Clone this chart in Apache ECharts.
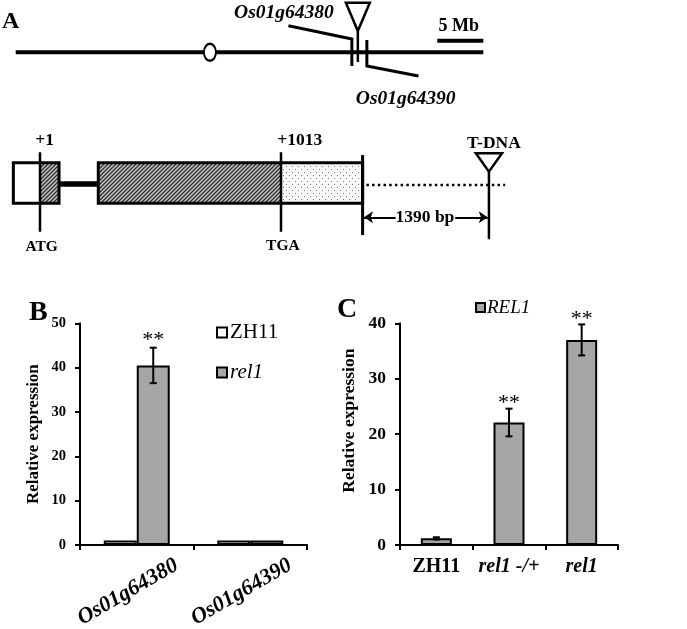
<!DOCTYPE html>
<html><head><meta charset="utf-8">
<script src="https://cdn.jsdelivr.net/npm/echarts@6/dist/echarts.min.js"></script>
<style>html,body{margin:0;padding:0;background:#fff}#c{width:687px;height:629px}</style>
</head><body><div id="c"></div>
<script>
// ---------- Panel A: chromosome map (Mb) ----------
const chromSpanMb = [0, 50.8];
const centromereMb = 21.1;
const geneTicksMb = [36.52, 38.15];          // Os01g64380, Os01g64390
const tdnaChromMb = 37.17;
const scaleBarMb = [45.8, 50.8];             // 5 Mb scale bar
const chromLabels = ['Os01g64380', 'Os01g64390', '5 Mb'];
const chromLabelMb = [29.14, 42.37, 48.13];

// ---------- Panel A: gene model (schematic bp, ATG = +1) ----------
const utr5Bp = [-112, 0];
const cds1Bp = [0, 80];
const intronBp = [80, 245];
const cds2Bp = [245, 1013];
const utr3Bp = [1013, 1356];
const tdnaGeneBp = 1887;
const dottedEndBp = 1955;
const geneLabels = ['+1', '+1013', 'T-DNA', 'ATG', 'TGA', '1390 bp'];
const geneLabelBp = [19, 1092, 1908, 7, 1021, 1618];

// ---------- Panel B ----------
const catsB = ['Os01g64380', 'Os01g64390'];
const zh11B = [1.0, 1.0];
const rel1B = [40.5, 1.0];
const rel1BErr = [4.0, 0];
const rel1BSig = [1, 0];
const ticksB = [0, 10, 20, 30, 40, 50];

// ---------- Panel C ----------
const catsC = ['ZH11', 'rel1 -/+', 'rel1'];
const rel1C = [1.2, 22.1, 37.0];
const rel1CErr = [0.2, 2.5, 2.8];
const rel1CSig = [0, 1, 1];
const ticksC = [0, 10, 20, 30, 40];

// ---------- layout (diagram levels / styling, not data) ----------
const FONT = '"Liberation Serif","Times New Roman",serif';
const LA = { chromY: 52.3, tickTop: 38, tickBot: 66, leader1StartMb: 29.63, leader1StartY: 25.7,
  leader2EndMb: 43.76, leader2EndY: 76, tdnaTop: 2.7, tdnaApex: 31, tdnaStemBot: 62, tdnaHalfMb: 1.3,
  scaleY: 40.7, labelY: [13.3, 99.3, 26] };
const LG = { boxTop: 162.7, boxBot: 203.3, intronY: 184, markTop: 152.3, markBot: 231.7, endTop: 155, endBot: 235,
  dotY: 185, dotStartBp: 1372, tTop: 153.3, tApex: 171.7, tStemBot: 239.3, tHalfBp: 55, arrowY: 217.3,
  arrowL: [1495, 1362], arrowR: [1745, 1882], labelY: [140, 140, 143, 247, 246, 217.3] };
const GRAY = '#a6a6a6';

function hatchPattern() {
  const c = document.createElement('canvas'); c.width = c.height = 4;
  const g = c.getContext('2d');
  g.fillStyle = '#cbcbcb'; g.fillRect(0, 0, 4, 4);
  g.strokeStyle = '#333'; g.lineWidth = 1.5; g.beginPath();
  g.moveTo(0, 4); g.lineTo(4, 0); g.moveTo(-1, 1); g.lineTo(1, -1); g.moveTo(3, 5); g.lineTo(5, 3);
  g.stroke(); return c;
}
function dotPattern() {
  const c = document.createElement('canvas'); c.width = 6; c.height = 6;
  const g = c.getContext('2d');
  g.fillStyle = '#f8f8f8'; g.fillRect(0, 0, 6, 6);
  g.fillStyle = '#7a7a7a'; g.fillRect(1, 1, 1, 1); g.fillRect(4, 4, 1, 1);
  return c;
}
const FILLS = ['#ffffff', { image: hatchPattern(), repeat: 'repeat' }, { image: dotPattern(), repeat: 'repeat' }];

const geneBoxes = [[utr5Bp[0], utr5Bp[1], 0], [cds1Bp[0], cds1Bp[1], 1], [cds2Bp[0], cds2Bp[1], 1], [utr3Bp[0], utr3Bp[1], 2]];
const exonOutlines = [[utr5Bp[0], cds1Bp[1], 0], [cds2Bp[0], utr3Bp[1], 0]];

const lineBase = { type: 'lines', coordinateSystem: 'cartesian2d', polyline: true, silent: true, symbol: 'none',
  lineStyle: { color: '#000', width: 3, opacity: 1, curveness: 0 }, z: 4 };

function errorSeries(xi, yi, vals, errs, sigs, offset, fontSize, lift) {
  return {
    type: 'custom', xAxisIndex: xi, yAxisIndex: yi, z: 5, silent: true,
    data: vals.map((v, i) => [i, v, errs[i], sigs[i]]),
    renderItem: function (params, api) {
      const i = api.value(0), v = api.value(1), e = api.value(2), s = api.value(3);
      const x = api.coord([i, v])[0] + offset;
      const yt = api.coord([i, v + e])[1], yb = api.coord([i, v - e])[1];
      const ch = [];
      const ls = { stroke: '#000', lineWidth: 2 };
      if (e > 0) {
        ch.push({ type: 'line', shape: { x1: x, y1: yt, x2: x, y2: yb }, style: ls });
        ch.push({ type: 'line', shape: { x1: x - 3.5, y1: yt, x2: x + 3.5, y2: yt }, style: ls });
        ch.push({ type: 'line', shape: { x1: x - 3.5, y1: yb, x2: x + 3.5, y2: yb }, style: ls });
      }
      if (s) ch.push({ type: 'text', x: x, y: yt + lift, style: { text: '**', font: fontSize + 'px ' + FONT, fill: '#000', align: 'center', verticalAlign: 'bottom' } });
      return { type: 'group', children: ch };
    }
  };
}

const axisBlack = { color: '#000', width: 2 };

const option = {
  animation: false,
  backgroundColor: '#fff',
  title: [
    { text: 'A', left: 2, top: 10, padding: 0, textStyle: { fontFamily: FONT, fontSize: 24, fontWeight: 'bold', color: '#000' } },
    { text: 'B', left: 29, top: 299, padding: 0, textStyle: { fontFamily: FONT, fontSize: 28, fontWeight: 'bold', color: '#000' } },
    { text: 'C', left: 337, top: 296, padding: 0, textStyle: { fontFamily: FONT, fontSize: 28, fontWeight: 'bold', color: '#000' } }
  ],
  legend: [
    { orient: 'vertical', left: 216, top: 322, itemWidth: 10, itemHeight: 10, itemGap: 19, padding: 0,
      textStyle: { fontFamily: FONT, fontSize: 21, color: '#000', padding: [0, 0, 0, -2] },
      data: [
        { name: 'ZH11', icon: 'rect', itemStyle: { color: '#fff', borderColor: '#000', borderWidth: 2 } },
        { name: 'rel1', icon: 'rect', itemStyle: { color: GRAY, borderColor: '#000', borderWidth: 2 }, textStyle: { fontStyle: 'italic' } }
      ] },
    { orient: 'horizontal', left: 475, top: 298, itemWidth: 9, itemHeight: 9, padding: 0,
      textStyle: { fontFamily: FONT, fontSize: 19, color: '#000', fontStyle: 'italic', padding: [0, 0, 0, -3] },
      data: [{ name: 'REL1', icon: 'rect', itemStyle: { color: GRAY, borderColor: '#000', borderWidth: 2 } }] }
  ],
  grid: [
    { left: 15.7, top: 0, width: 467.6, height: 120, outerBoundsMode: 'none' },
    { left: 4.315, top: 130, width: 511.5, height: 140, outerBoundsMode: 'none' },
    { left: 80, top: 323.3, width: 227, height: 221.7, outerBoundsMode: 'none' },
    { left: 400, top: 323.3, width: 218, height: 221.7, outerBoundsMode: 'none' }
  ],
  xAxis: [
    { gridIndex: 0, type: 'value', min: chromSpanMb[0], max: chromSpanMb[1], show: false },
    { gridIndex: 1, type: 'value', min: -150, max: 2000, show: false },
    { gridIndex: 2, type: 'category', data: catsB,
      axisLine: { lineStyle: axisBlack }, axisTick: { show: true, length: 5, lineStyle: axisBlack },
      axisLabel: { rotate: 30, align: 'center', verticalAlign: 'middle', margin: 42, padding: [0, 20, 12, 0],
        fontFamily: FONT, fontSize: 22, fontWeight: 'bold', fontStyle: 'italic', color: '#000', interval: 0 } },
    { gridIndex: 3, type: 'category', data: catsC,
      axisLine: { lineStyle: axisBlack }, axisTick: { show: true, length: 5, lineStyle: axisBlack },
      axisLabel: { margin: 12, interval: 0, color: '#000',
        formatter: v => v === 'ZH11' ? '{n|' + v + '}' : '{i|' + v + '}',
        rich: { n: { fontFamily: FONT, fontSize: 20, fontWeight: 'bold', color: '#000' },
                i: { fontFamily: FONT, fontSize: 20, fontWeight: 'bold', fontStyle: 'italic', color: '#000' } } } }
  ],
  yAxis: [
    { gridIndex: 0, type: 'value', min: 0, max: 120, inverse: true, show: false },
    { gridIndex: 1, type: 'value', min: 130, max: 270, inverse: true, show: false },
    { gridIndex: 2, type: 'value', min: ticksB[0], max: ticksB[ticksB.length - 1], interval: ticksB[1] - ticksB[0],
      name: 'Relative expression', nameLocation: 'middle', nameGap: 38,
      nameTextStyle: { fontFamily: FONT, fontSize: 17, fontWeight: 'bold', color: '#000' },
      axisLine: { show: true, lineStyle: axisBlack }, axisTick: { show: true, length: 5, lineStyle: axisBlack },
      axisLabel: { fontFamily: FONT, fontSize: 14.5, fontWeight: 'bold', color: '#000', margin: 14 },
      splitLine: { show: false } },
    { gridIndex: 3, type: 'value', min: ticksC[0], max: ticksC[ticksC.length - 1], interval: ticksC[1] - ticksC[0],
      name: 'Relative expression', nameLocation: 'middle', nameGap: 42,
      nameTextStyle: { fontFamily: FONT, fontSize: 17.5, fontWeight: 'bold', color: '#000', padding: [0, 0, 0, 27] },
      axisLine: { show: true, lineStyle: axisBlack }, axisTick: { show: true, length: 5, lineStyle: axisBlack },
      axisLabel: { fontFamily: FONT, fontSize: 17.5, fontWeight: 'bold', color: '#000', margin: 14 },
      splitLine: { show: false } }
  ],
  series: [
    // ----- A1: chromosome -----
    Object.assign({}, lineBase, { xAxisIndex: 0, yAxisIndex: 0, data: [
      { coords: [[chromSpanMb[0], LA.chromY], [chromSpanMb[1], LA.chromY]], lineStyle: { width: 4 } },
      { coords: [[LA.leader1StartMb, LA.leader1StartY], [geneTicksMb[0], LA.tickTop + 1], [geneTicksMb[0], LA.tickBot]], lineStyle: { width: 3 } },
      { coords: [[geneTicksMb[1], LA.tickTop + 2], [geneTicksMb[1], LA.tickBot], [LA.leader2EndMb, LA.leader2EndY]], lineStyle: { width: 3 } },
      { coords: [[tdnaChromMb, LA.tdnaApex], [tdnaChromMb, LA.tdnaStemBot]], lineStyle: { width: 2.5 } },
      { coords: [[scaleBarMb[0], LA.scaleY], [scaleBarMb[1], LA.scaleY]], lineStyle: { width: 4 } }
    ] }),
    { type: 'scatter', xAxisIndex: 0, yAxisIndex: 0, z: 6, silent: true, symbol: 'circle', symbolSize: [12, 17],
      itemStyle: { color: '#fff', borderColor: '#000', borderWidth: 2.2, opacity: 1 },
      data: [[centromereMb, LA.chromY]] },
    { type: 'custom', xAxisIndex: 0, yAxisIndex: 0, z: 6, silent: true, data: [[tdnaChromMb, LA.tdnaTop]],
      renderItem: (p, api) => ({ type: 'polygon', shape: { points: [
        api.coord([api.value(0) - LA.tdnaHalfMb, LA.tdnaTop]), api.coord([api.value(0) + LA.tdnaHalfMb, LA.tdnaTop]),
        api.coord([api.value(0), LA.tdnaApex])] }, style: { fill: '#fff', stroke: '#000', lineWidth: 2.5 } }) },
    { type: 'custom', xAxisIndex: 0, yAxisIndex: 0, z: 6, silent: true,
      data: chromLabelMb.map((x, i) => [x, LA.labelY[i]]),
      renderItem: (p, api) => {
        const pt = api.coord([api.value(0), api.value(1)]);
        const i = p.dataIndex;
        return { type: 'text', x: pt[0], y: pt[1], style: { text: chromLabels[i],
          font: (i < 2 ? 'italic bold 19.5px ' : 'bold 18px ') + FONT, fill: '#000', align: 'center', verticalAlign: 'middle' } };
      } },
    // ----- A2: gene model -----
    { type: 'custom', xAxisIndex: 1, yAxisIndex: 1, z: 2, silent: true, data: geneBoxes,
      renderItem: (p, api) => {
        const a = api.coord([api.value(0), LG.boxTop]), b = api.coord([api.value(1), LG.boxBot]);
        return { type: 'rect', shape: { x: a[0], y: a[1], width: b[0] - a[0], height: b[1] - a[1] },
          style: { fill: FILLS[api.value(2)] } };
      } },
    { type: 'custom', xAxisIndex: 1, yAxisIndex: 1, z: 3, silent: true, data: exonOutlines,
      renderItem: (p, api) => {
        const a = api.coord([api.value(0), LG.boxTop]), b = api.coord([api.value(1), LG.boxBot]);
        return { type: 'rect', shape: { x: a[0], y: a[1], width: b[0] - a[0], height: b[1] - a[1] },
          style: { fill: 'none', stroke: '#000', lineWidth: 3 } };
      } },
    Object.assign({}, lineBase, { xAxisIndex: 1, yAxisIndex: 1, data: [
      { coords: [[intronBp[0], LG.intronY], [intronBp[1], LG.intronY]], lineStyle: { width: 5.5 } },
      { coords: [[cds1Bp[0], LG.markTop], [cds1Bp[0], LG.markBot]], lineStyle: { width: 2.5 } },
      { coords: [[cds2Bp[1], LG.markTop], [cds2Bp[1], LG.markBot]], lineStyle: { width: 2.5 } },
      { coords: [[utr3Bp[1], LG.endTop], [utr3Bp[1], LG.endBot]], lineStyle: { width: 3 } },
      { coords: [[LG.dotStartBp, LG.dotY], [dottedEndBp, LG.dotY]], lineStyle: { width: 2.5, type: [2.5, 3.2] } },
      { coords: [[tdnaGeneBp, LG.tApex], [tdnaGeneBp, LG.tStemBot]], lineStyle: { width: 2.5 } }
    ] }),
    Object.assign({}, lineBase, { xAxisIndex: 1, yAxisIndex: 1, polyline: false, symbol: ['none', 'arrow'], symbolSize: [8, 9],
      lineStyle: { color: '#000', width: 2, opacity: 1 },
      data: [
        { coords: [[LG.arrowL[0], LG.arrowY], [LG.arrowL[1], LG.arrowY]] },
        { coords: [[LG.arrowR[0], LG.arrowY], [LG.arrowR[1], LG.arrowY]] }
      ] }),
    { type: 'custom', xAxisIndex: 1, yAxisIndex: 1, z: 6, silent: true, data: [[tdnaGeneBp, LG.tTop]],
      renderItem: (p, api) => ({ type: 'polygon', shape: { points: [
        api.coord([api.value(0) - LG.tHalfBp, LG.tTop]), api.coord([api.value(0) + LG.tHalfBp, LG.tTop]),
        api.coord([api.value(0), LG.tApex])] }, style: { fill: '#fff', stroke: '#000', lineWidth: 2.5 } }) },
    { type: 'custom', xAxisIndex: 1, yAxisIndex: 1, z: 6, silent: true,
      data: geneLabelBp.map((x, i) => [x, LG.labelY[i]]),
      renderItem: (p, api) => {
        const pt = api.coord([api.value(0), api.value(1)]);
        const i = p.dataIndex;
        return { type: 'text', x: pt[0], y: pt[1], style: { text: geneLabels[i],
          font: ((i === 3 || i === 4) ? 'bold 15.5px ' : 'bold 17.5px ') + FONT, fill: '#000', align: 'center', verticalAlign: 'middle' } };
      } },
    // ----- B -----
    { type: 'bar', name: 'ZH11', xAxisIndex: 2, yAxisIndex: 2, data: zh11B, barWidth: 33, barGap: '0%',
      itemStyle: { color: '#fff', borderColor: '#000', borderWidth: 2 } },
    { type: 'bar', name: 'rel1', xAxisIndex: 2, yAxisIndex: 2, data: rel1B, barWidth: 33, barGap: '0%',
      itemStyle: { color: GRAY, borderColor: '#000', borderWidth: 2 } },
    errorSeries(2, 2, rel1B, rel1BErr, rel1BSig, 16.5, 22, 4),
    // ----- C -----
    { type: 'bar', name: 'REL1', xAxisIndex: 3, yAxisIndex: 3, data: rel1C, barWidth: 31,
      itemStyle: { color: GRAY, borderColor: '#000', borderWidth: 2 } },
    errorSeries(3, 3, rel1C, rel1CErr, rel1CSig, 0, 22, 6)
  ]
};

const chart = echarts.init(document.getElementById('c'), null, { renderer: 'canvas' });
chart.setOption(option);
</script>
</body></html>
